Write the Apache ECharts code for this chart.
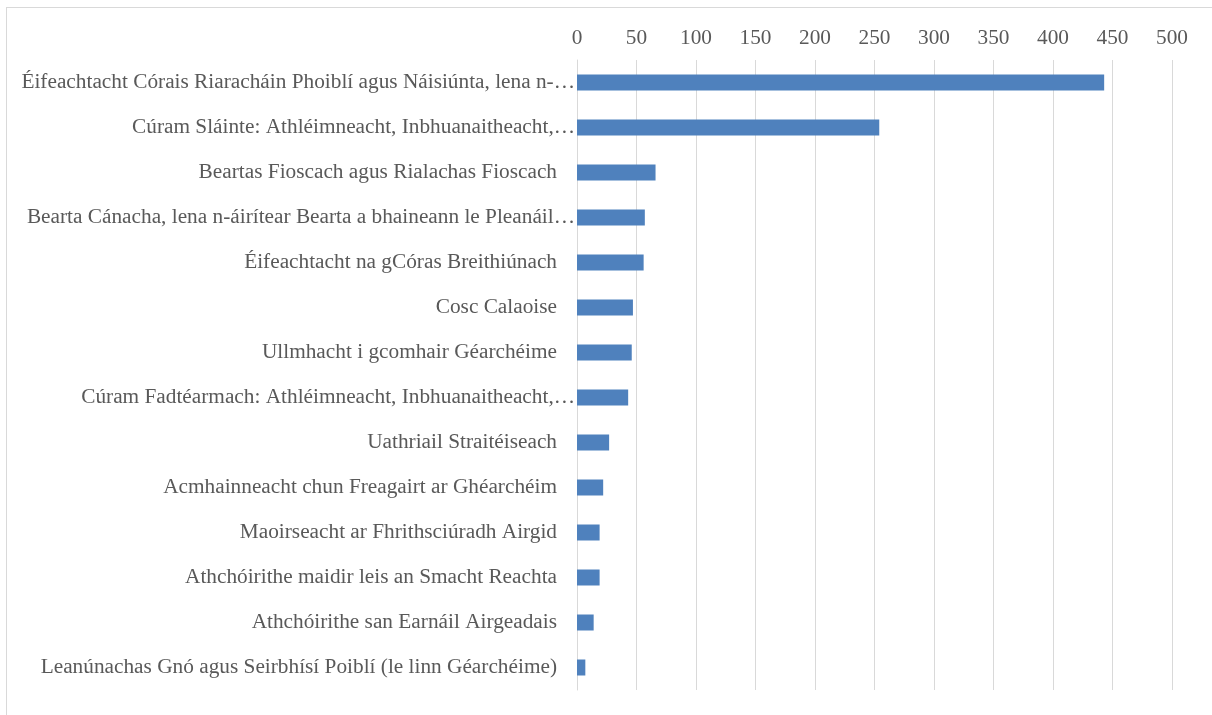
<!DOCTYPE html>
<html>
<head>
<meta charset="utf-8">
<script src="https://cdn.jsdelivr.net/npm/echarts@6/dist/echarts.min.js"></script>
<style>
  html, body { margin: 0; padding: 0; background: #fff; }
  .frame { position: absolute; left: 6px; top: 7px; width: 1220px; height: 720px; border: 1px solid #d9d9d9; box-sizing: border-box; }
  .bar { position: absolute; left: 0; top: 0; width: 1212px; height: 715px; }
</style>
</head>
<body>
<div class="frame"></div>
<div class="bar"></div>
<script>
// categories (top to bottom)
var categories = [
  "Éifeachtacht Córais Riaracháin Phoiblí agus Náisiúnta, lena n-…",
  "Cúram Sláinte: Athléimneacht, Inbhuanaitheacht,…",
  "Beartas Fioscach agus Rialachas Fioscach",
  "Bearta Cánacha, lena n-áirítear Bearta a bhaineann le Pleanáil…",
  "Éifeachtacht na gCóras Breithiúnach",
  "Cosc Calaoise",
  "Ullmhacht i gcomhair Géarchéime",
  "Cúram Fadtéarmach: Athléimneacht, Inbhuanaitheacht,…",
  "Uathriail Straitéiseach",
  "Acmhainneacht chun Freagairt ar Ghéarchéim",
  "Maoirseacht ar Fhrithsciúradh Airgid",
  "Athchóirithe maidir leis an Smacht Reachta",
  "Athchóirithe san Earnáil Airgeadais",
  "Leanúnachas Gnó agus Seirbhísí Poiblí (le linn Géarchéime)"
];
// values
var values = [443, 254, 66, 57, 56, 47, 46, 43, 27, 22, 19, 19, 14, 7];

var myChart = echarts.init(document.querySelector(".bar"));
var font = "'Liberation Serif', 'Times New Roman', serif";
var fs = 21.3;
var option = {
  animation: false,
  grid: { left: 577, right: 40, top: 60, bottom: 25 },
  xAxis: {
    type: "value",
    position: "top",
    min: 0,
    max: 500,
    interval: 50,
    axisLine: { show: false },
    axisTick: { show: false },
    axisLabel: { color: "#595959", fontFamily: font, fontSize: fs, margin: 11 },
    splitLine: { lineStyle: { color: "#d9d9d9", width: 1 } }
  },
  yAxis: {
    type: "category",
    inverse: true,
    data: categories,
    axisLine: { lineStyle: { color: "#d9d9d9", width: 1 } },
    axisTick: { show: false },
    axisLabel: {
      color: "#595959",
      fontFamily: font,
      fontSize: fs,
      margin: 2,
      // 截断的标签贴着轴，其余留空
      formatter: function (v) {
        if (v.charAt(v.length - 1) === "…") return "{t|" + v + "}";
        return "{n|" + v + "}";
      },
      rich: {
        t: { fontFamily: font, fontSize: fs, color: "#595959" },
        n: { fontFamily: font, fontSize: fs, color: "#595959", padding: [0, 18, 0, 0] }
      }
    }
  },
  series: [
    {
      type: "bar",
      data: values,
      barWidth: 16,
      itemStyle: { color: "#4f81bd" }
    }
  ]
};
myChart.setOption(option);
</script>
</body>
</html>
